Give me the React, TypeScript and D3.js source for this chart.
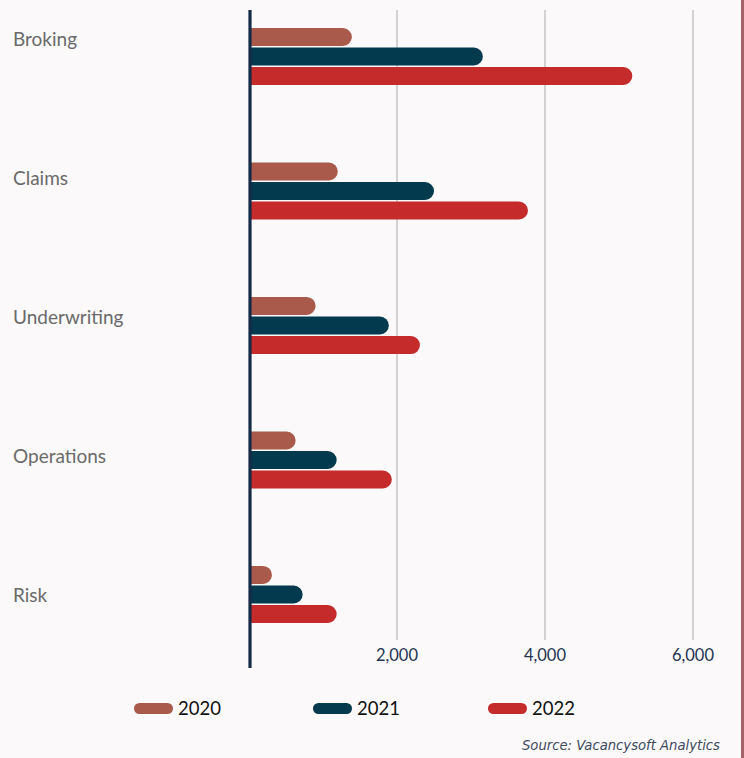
import React from "react";
import * as d3 from "d3";

const categories = ["Broking", "Claims", "Underwriting", "Operations", "Risk"];
const seriesNames = ["2020", "2021", "2022"];
const values2020 = [1390, 1200, 900, 630, 310];
const values2021 = [3160, 2500, 1890, 1185, 725];
const values2022 = [5180, 3770, 2310, 1930, 1185];
const tickValues = [2000, 4000, 6000];
const colors = ["#aa5a4a", "#033a4d", "#c42b2a"];
const sourceText = "Source: Vacancysoft Analytics";

const W = 744;
const H = 758;

export default function App() {
  const series = [values2020, values2021, values2022];
  const x = d3.scaleLinear().domain([0, 6000]).range([249, 693]);
  const yGroup = d3.scalePoint<string>().domain(categories).range([56.5, 594.5]);
  const yLabel = d3.scalePoint<string>().domain(categories).range([46, 602]);
  const yInner = d3
    .scaleBand<string>()
    .domain(seriesNames)
    .range([-28.5, 28.5])
    .paddingInner(0.08);
  const bh = yInner.bandwidth();
  const fmt = d3.format(",");

  const barPath = (x0: number, x1: number, y0: number, h: number) => {
    const r = h / 2;
    const p = d3.path();
    p.moveTo(x0, y0);
    p.lineTo(Math.max(x0, x1 - r), y0);
    p.arc(Math.max(x0, x1 - r), y0 + r, r, -Math.PI / 2, Math.PI / 2);
    p.lineTo(x0, y0 + h);
    p.closePath();
    return p.toString();
  };

  const legendX = [134, 313, 488];

  return (
    <div style={{ position: "absolute", left: 0, top: 0, width: W, height: H }}>
      <svg width={W} height={H} style={{ display: "block" }}>
        <rect x={0} y={0} width={W} height={H} fill="#fbf9fa" />
        <rect x={741} y={0} width={3} height={H} fill="#a3626c" />
        {tickValues.map((t) => (
          <g key={t}>
            <line x1={x(t)} x2={x(t)} y1={10} y2={640} stroke="#c4c4c4" strokeWidth={1.5} />
            <text
              x={x(t)}
              y={661}
              textAnchor="middle"
              fontFamily="Lato"
              fontSize={16.5}
              fill="#1f3452"
            >
              {fmt(t)}
            </text>
          </g>
        ))}
        {categories.map((c, ci) => (
          <g key={c}>
            <text x={13} y={yLabel(c)} fontFamily="Lato" fontSize={19} fill="#6a6a6a">
              {c}
            </text>
            {seriesNames.map((s, si) => {
              const y0 = (yGroup(c) as number) + (yInner(s) as number);
              return (
                <path
                  key={s}
                  d={barPath(x(0), x(series[si][ci]), y0, bh)}
                  fill={colors[si]}
                />
              );
            })}
          </g>
        ))}
        <line x1={250} x2={250} y1={10} y2={668} stroke="#152a47" strokeWidth={3.2} />
        {seriesNames.map((s, si) => (
          <g key={s}>
            <rect x={legendX[si]} y={703} width={39} height={11} rx={5.5} fill={colors[si]} />
            <text
              x={legendX[si] + 44}
              y={715}
              fontFamily="Lato"
              fontSize={18.5}
              fill="#111"
            >
              {s}
            </text>
          </g>
        ))}
        <text
          x={720}
          y={750}
          textAnchor="end"
          fontFamily="DejaVu Sans"
          fontStyle="italic"
          fontSize={13.2}
          fill="#3e4a5e"
        >
          {sourceText}
        </text>
      </svg>
    </div>
  );
}
